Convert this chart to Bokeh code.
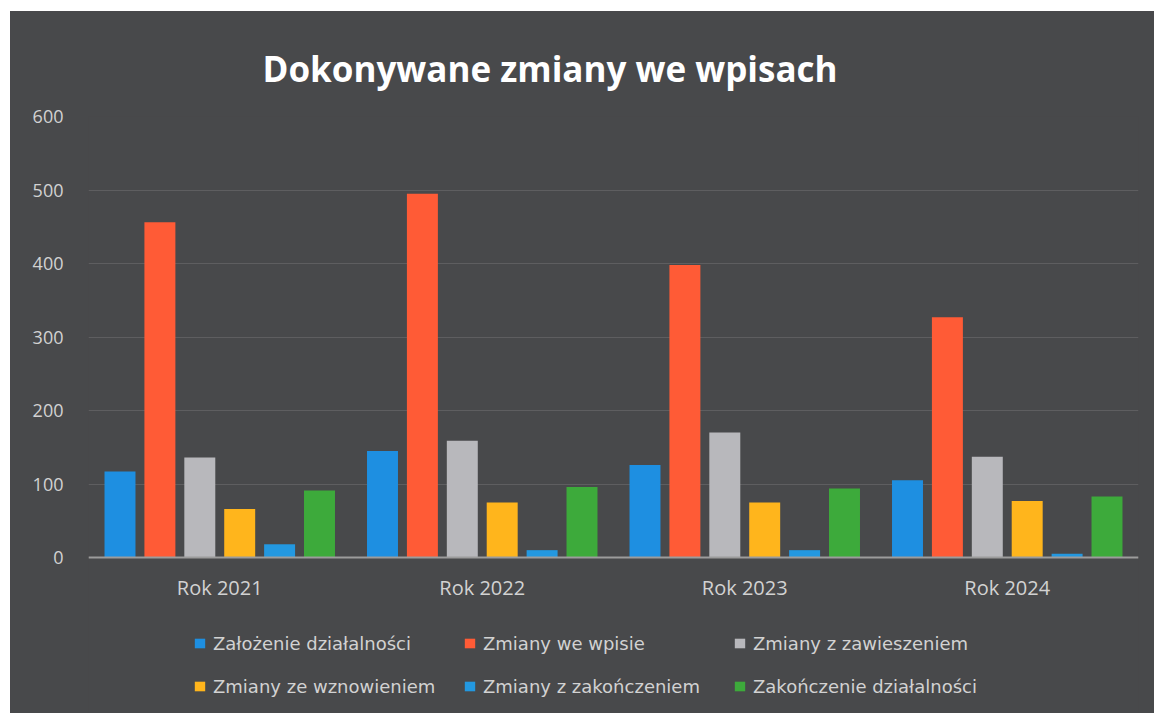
from bokeh.plotting import figure
from bokeh.models import FactorRange, Range1d, Legend, LegendItem, FixedTicker, ColumnDataSource
from bokeh.transform import dodge
from bokeh.embed import file_html
from bokeh.resources import INLINE

years = ["Rok 2021", "Rok 2022", "Rok 2023", "Rok 2024"]
series_names = [
    "Założenie działalności",
    "Zmiany we wpisie",
    "Zmiany z zawieszeniem",
    "Zmiany ze wznowieniem",
    "Zmiany z zakończeniem",
    "Zakończenie działalności",
]
zalozenie = [117, 145, 126, 105]
zmiany_we_wpisie = [456, 495, 398, 327]
zmiany_z_zawieszeniem = [136, 159, 170, 137]
zmiany_ze_wznowieniem = [66, 75, 75, 77]
zmiany_z_zakonczeniem = [18, 10, 10, 5]
zakonczenie = [91, 96, 94, 83]
y_ticks = [0, 100, 200, 300, 400, 500, 600]
colors = ["#1E8FE1", "#FF5B36", "#B8B8BC", "#FFB51C", "#2398E0", "#3DAA3B"]

values = [zalozenie, zmiany_we_wpisie, zmiany_z_zawieszeniem,
          zmiany_ze_wznowieniem, zmiany_z_zakonczeniem, zakonczenie]
keys = ["s%d" % i for i in range(6)]
data = {"year": years}
for k, v in zip(keys, values):
    data[k] = v
source = ColumnDataSource(data)

# layout: the frame runs down to the bottom edge so the legend can sit under the axis
W, H = 1144, 702
TOP, LEFT, RIGHT = 105, 78, 16
AXIS_PX = 441                      # pixel height of the 0..600 span
frame_h = H - TOP
y_max = y_ticks[-1]
y_low = -y_max * (frame_h - AXIS_PX) / AXIS_PX

BG = "#48494B"
p = figure(width=W, height=H, margin=(11, 0, 0, 10),
           output_backend="svg", toolbar_location=None,
           x_range=FactorRange(factors=years, range_padding=0),
           y_range=Range1d(y_low, y_max),
           background_fill_color=BG, border_fill_color=BG,
           outline_line_color=None,
           styles={"background-color": BG},
           min_border_left=LEFT, min_border_right=RIGHT, min_border_top=TOP, min_border_bottom=0)

step = 0.152
width = 0.118
items = []
for i, (k, name, c) in enumerate(zip(keys, series_names, colors)):
    r = p.vbar(x=dodge("year", (i - 2.5) * step, range=p.x_range), top=k, width=width,
               source=source, fill_color=c, line_color=None)
    items.append(LegendItem(label=name, renderers=[r]))

p.title.text = "Dokonywane zmiany we wpisach"
p.title.text_color = "#FFFFFF"
p.title.text_font = "Open Sans"
p.title.text_font_size = "35px"
p.title.text_font_style = "bold"
p.title.text_line_height = 0.9
p.title.align = "left"
p.title.offset = 174
p.title.standoff = 50

p.yaxis.ticker = FixedTicker(ticks=y_ticks)
p.yaxis.axis_line_color = None
p.yaxis.major_tick_line_color = None
p.yaxis.minor_tick_line_color = None
p.yaxis.major_label_text_color = "#D2D2D2"
p.yaxis.major_label_text_font = "Open Sans"
p.yaxis.major_label_text_font_size = "18px"
p.yaxis.major_label_standoff = 19

p.xaxis.fixed_location = 0
p.xaxis.axis_line_color = "#9C9C9C"
p.xaxis.axis_line_width = 2
p.xaxis.major_tick_line_color = None
p.xaxis.minor_tick_line_color = None
p.xaxis.major_label_text_color = "#D2D2D2"
p.xaxis.major_label_text_font = "Open Sans"
p.xaxis.major_label_text_font_size = "20px"
p.xaxis.major_label_standoff = 10

p.xgrid.grid_line_color = None
p.ygrid.grid_line_color = "#5E5E60"
p.ygrid.grid_line_width = 1

# grid legend fills column by column: order items so rows read like the reference
order = [0, 3, 1, 4, 2, 5]
legend = Legend(items=[items[j] for j in order], ncols=3, location=(105, 12),
                background_fill_alpha=0, border_line_color=None,
                label_text_color="#D2D2D2", label_text_font="DejaVu Sans",
                label_text_font_size="18px",
                glyph_width=13, glyph_height=12, label_height=30, label_width=237,
                label_standoff=7, spacing=13, padding=0, margin=0)
p.add_layout(legend)

open("out.html", "w").write(file_html(p, INLINE))
